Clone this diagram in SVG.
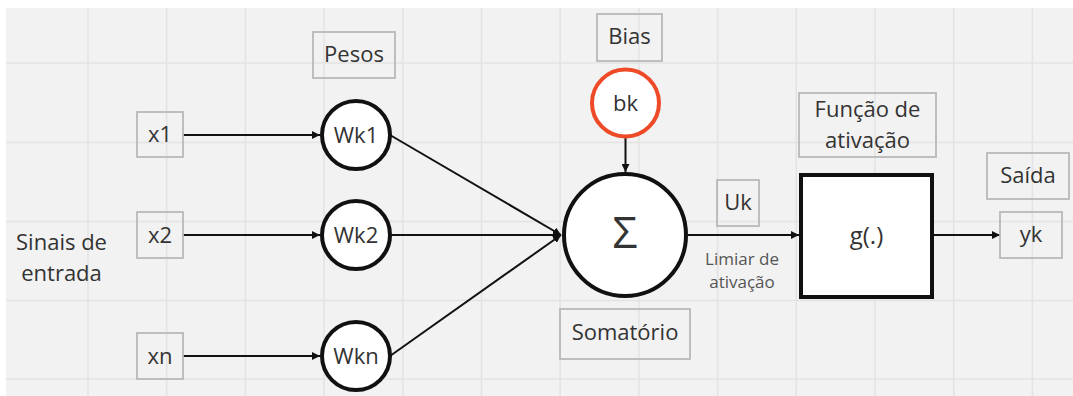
<svg xmlns="http://www.w3.org/2000/svg" width="1073" height="396" viewBox="0 0 1073 396">
  <defs>
    <marker id="arrow" viewBox="0 0 10 10" refX="10" refY="5" markerWidth="8" markerHeight="8" markerUnits="userSpaceOnUse" orient="auto">
      <path d="M0,0 L10,5 L0,10 z" fill="#111"/>
    </marker>
    <style>
      .lbl { fill: none; stroke: #b9b9b9; stroke-width: 1.8; }
      .txt { font-family: "Open Sans", "Noto Sans", sans-serif; font-size: 22px; fill: #333; text-anchor: middle; }
      .small { font-family: "Open Sans", "Noto Sans", sans-serif; font-size: 17px; fill: #555; text-anchor: middle; }
      .node { fill: #fff; stroke: #111; stroke-width: 4; }
      .wire { fill: none; stroke: #111; stroke-width: 2; marker-end: url(#arrow); }
      .grid { stroke: #e3e3e3; stroke-width: 1.5; fill: none; }
    </style>
  </defs>

  <!-- canvas -->
  <rect x="0" y="0" width="1073" height="396" fill="#ffffff"/>
  <rect x="6" y="8" width="1067" height="388" fill="#f2f2f2"/>
  <path class="grid" d="M88,8V396 M166.7,8V396 M245.4,8V396 M324,8V396 M402.8,8V396 M481.5,8V396 M560.2,8V396 M638.9,8V396 M717.6,8V396 M796.3,8V396 M875,8V396 M953.7,8V396 M1032.4,8V396 M6,63H1073 M6,142.5H1073 M6,221.5H1073 M6,300.5H1073 M6,379H1073"/>

  <!-- connectors -->
  <g id="connectors">
    <line class="wire" x1="183" y1="135" x2="320" y2="135"/>
    <line class="wire" x1="183" y1="235" x2="320" y2="235"/>
    <line class="wire" x1="183" y1="356" x2="320" y2="356"/>
    <line class="wire" x1="390" y1="135" x2="561" y2="235"/>
    <line class="wire" x1="390" y1="235" x2="561" y2="235"/>
    <line class="wire" x1="390" y1="356" x2="561" y2="235"/>
    <line class="wire" x1="625.5" y1="138" x2="625.5" y2="172"/>
    <line class="wire" x1="688" y1="235" x2="799" y2="235"/>
    <line class="wire" x1="934" y1="235" x2="1000" y2="235"/>
  </g>

  <!-- input signals -->
  <g id="sinais">
    <text class="txt" x="61.5" y="250">Sinais de</text>
    <text class="txt" x="61.5" y="281">entrada</text>
  </g>
  <g id="x1">
    <rect class="lbl" x="137" y="112" width="46" height="45"/>
    <text class="txt" x="160" y="142">x1</text>
  </g>
  <g id="x2">
    <rect class="lbl" x="137" y="212" width="46" height="46"/>
    <text class="txt" x="160" y="243">x2</text>
  </g>
  <g id="xn">
    <rect class="lbl" x="137" y="333" width="46" height="46"/>
    <text class="txt" x="160" y="364">xn</text>
  </g>

  <!-- weights -->
  <g id="pesos">
    <rect class="lbl" x="313" y="32" width="82" height="46"/>
    <text class="txt" x="354" y="62">Pesos</text>
  </g>
  <g id="wk1">
    <circle class="node" cx="356" cy="135" r="34"/>
    <text class="txt" x="356" y="143">Wk1</text>
  </g>
  <g id="wk2">
    <circle class="node" cx="356" cy="235" r="34"/>
    <text class="txt" x="356" y="243">Wk2</text>
  </g>
  <g id="wkn">
    <circle class="node" cx="356" cy="356" r="34"/>
    <text class="txt" x="356" y="364">Wkn</text>
  </g>

  <!-- bias -->
  <g id="bias">
    <rect class="lbl" x="597" y="14" width="65" height="47"/>
    <text class="txt" x="629.5" y="44">Bias</text>
  </g>
  <g id="bk">
    <circle cx="625.5" cy="103" r="33.5" fill="#fff" stroke="#ef4a28" stroke-width="4"/>
    <text class="txt" x="625.5" y="110.5">bk</text>
  </g>

  <!-- summing junction -->
  <g id="soma">
    <circle class="node" cx="625" cy="235" r="61"/>
    <text class="txt" x="625" y="247.5" style="font-size:44px">Σ</text>
  </g>
  <g id="somatorio">
    <rect class="lbl" x="560" y="309" width="130" height="50"/>
    <text class="txt" x="625" y="340">Somatório</text>
  </g>

  <!-- activation potential -->
  <g id="uk">
    <rect class="lbl" x="717" y="180" width="42" height="46"/>
    <text class="txt" x="738" y="210">Uk</text>
  </g>
  <g id="limiar">
    <text class="small" x="742" y="265">Limiar de</text>
    <text class="small" x="742" y="288">ativação</text>
  </g>

  <!-- activation function -->
  <g id="funcao">
    <rect class="lbl" x="799" y="93" width="137" height="64"/>
    <text class="txt" x="867.5" y="117">Função de</text>
    <text class="txt" x="867.5" y="148">ativação</text>
  </g>
  <g id="g">
    <rect x="801" y="175" width="131" height="122" fill="#fff" stroke="#111" stroke-width="4"/>
    <text class="txt" x="866.5" y="244" style="font-size:24px">g(.)</text>
  </g>

  <!-- output -->
  <g id="saida">
    <rect class="lbl" x="987" y="153" width="82" height="46"/>
    <text class="txt" x="1028" y="183">Saída</text>
  </g>
  <g id="yk">
    <rect class="lbl" x="1000" y="212" width="62" height="46"/>
    <text class="txt" x="1031" y="242">yk</text>
  </g>
</svg>
